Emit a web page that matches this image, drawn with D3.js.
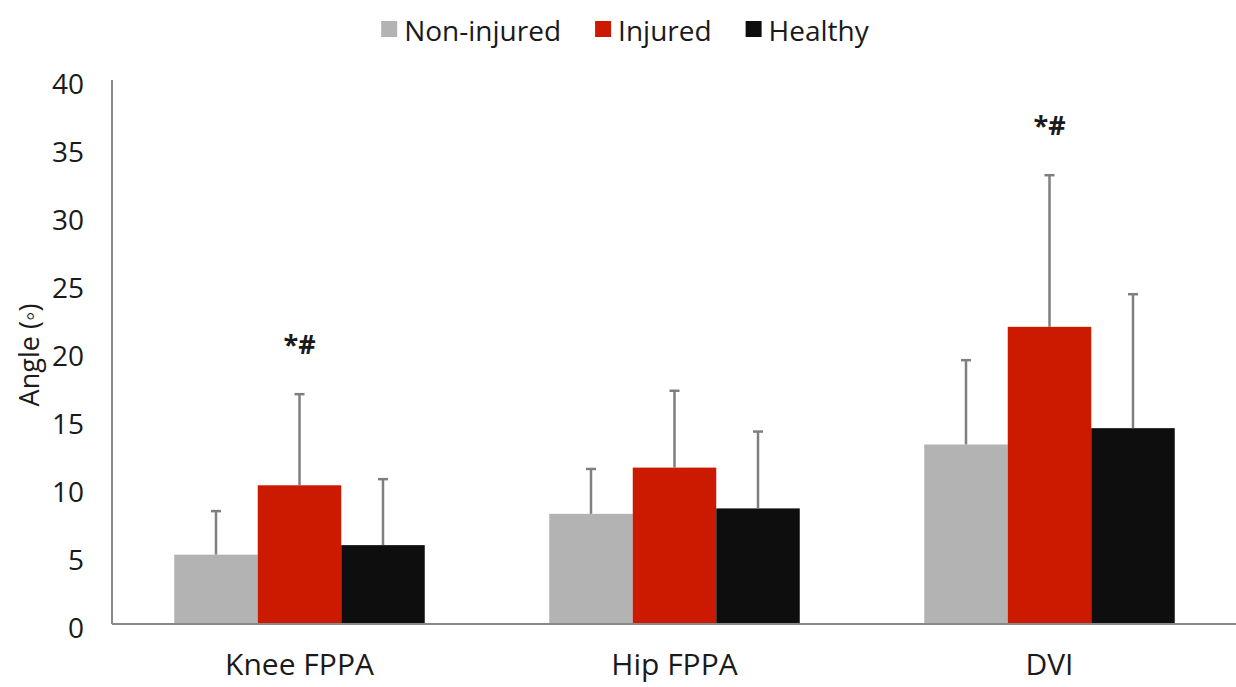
<!DOCTYPE html>
<html>
<head>
<meta charset="utf-8">
<script src="https://cdn.jsdelivr.net/npm/d3@7"></script>
<style>
  body { margin: 0; background: #fff; }
  text { font-family: "Open Sans", "Noto Sans", sans-serif; fill: #1a1a1a; }
</style>
</head>
<body>
<div id="chart"></div>
<script>
// data
var groups = ['Knee FPPA', 'Hip FPPA', 'DVI'];
var series = ['Non-injured', 'Injured', 'Healthy'];
var nonInjuredMean = [5.1, 8.1, 13.2];
var nonInjuredSD = [3.2, 3.3, 6.2];
var injuredMean = [10.2, 11.5, 21.85];
var injuredSD = [6.7, 5.65, 11.15];
var healthyMean = [5.8, 8.5, 14.4];
var healthySD = [4.85, 5.65, 9.85];
var yTicks = [0, 5, 10, 15, 20, 25, 30, 35, 40];
var colors = ['#b3b3b3', '#cc1a00', '#0e0e0e'];
var annotations = [
  { group: 'Knee FPPA', series: 'Injured', text: '*#' },
  { group: 'DVI', series: 'Injured', text: '*#' }
];

var width = 1236;
var height = 687;
var margin = { top: 80, right: 0, bottom: 63, left: 112 };

var means = [nonInjuredMean, injuredMean, healthyMean];
var sds = [nonInjuredSD, injuredSD, healthySD];

var rows = [];
groups.forEach(function (g, gi) {
  series.forEach(function (s, si) {
    rows.push({ group: g, series: s, mean: means[si][gi], sd: sds[si][gi], color: colors[si] });
  });
});

var svg = d3.select('#chart')
  .append('svg')
  .attr('width', width)
  .attr('height', height);

var x0 = d3.scaleBand()
  .domain(groups)
  .range([margin.left, width - margin.right + 1])
  .paddingInner(0.332)
  .paddingOuter(0.166);

var x1 = d3.scaleBand()
  .domain(series)
  .range([0, x0.bandwidth()]);

var y = d3.scaleLinear()
  .domain([0, 40])
  .range([height - margin.bottom, margin.top]);

// bars
svg.append('g')
  .selectAll('rect')
  .data(rows)
  .enter()
  .append('rect')
  .attr('x', function (d) { return x0(d.group) + x1(d.series); })
  .attr('y', function (d) { return y(d.mean); })
  .attr('width', x1.bandwidth())
  .attr('height', function (d) { return y(0) - y(d.mean); })
  .attr('fill', function (d) { return d.color; });

// error bars (upper only)
var err = svg.append('g')
  .attr('stroke', '#7f7f7f')
  .attr('stroke-width', 2.5)
  .selectAll('g')
  .data(rows)
  .enter()
  .append('g');

err.append('line')
  .attr('x1', function (d) { return x0(d.group) + x1(d.series) + x1.bandwidth() / 2; })
  .attr('x2', function (d) { return x0(d.group) + x1(d.series) + x1.bandwidth() / 2; })
  .attr('y1', function (d) { return y(d.mean); })
  .attr('y2', function (d) { return y(d.mean + d.sd); });

err.append('line')
  .attr('x1', function (d) { return x0(d.group) + x1(d.series) + x1.bandwidth() / 2 - 5; })
  .attr('x2', function (d) { return x0(d.group) + x1(d.series) + x1.bandwidth() / 2 + 5; })
  .attr('y1', function (d) { return y(d.mean + d.sd); })
  .attr('y2', function (d) { return y(d.mean + d.sd); });

// significance marks
svg.append('g')
  .selectAll('text')
  .data(annotations)
  .enter()
  .append('text')
  .attr('x', function (d) { return x0(d.group) + x1(d.series) + x1.bandwidth() / 2; })
  .attr('y', function (d) {
    var r = rows.find(function (r) { return r.group === d.group && r.series === d.series; });
    return y(r.mean + r.sd) - 51;
  })
  .attr('text-anchor', 'middle')
  .attr('dominant-baseline', 'central')
  .style('font-size', '27px')
  .style('font-weight', 'bold')
  .text(function (d) { return d.text; });

// axes
svg.append('line')
  .attr('x1', margin.left).attr('x2', margin.left)
  .attr('y1', y(40)).attr('y2', y(0))
  .attr('stroke', '#888').attr('stroke-width', 2);

svg.append('line')
  .attr('x1', margin.left).attr('x2', width)
  .attr('y1', y(0)).attr('y2', y(0))
  .attr('stroke', '#888').attr('stroke-width', 2);

svg.append('g')
  .selectAll('text')
  .data(yTicks)
  .enter()
  .append('text')
  .attr('x', margin.left - 28)
  .attr('y', function (d) { return y(d) + 3; })
  .attr('text-anchor', 'end')
  .attr('dominant-baseline', 'central')
  .style('font-size', '28px')
  .text(function (d) { return d; });

svg.append('g')
  .selectAll('text')
  .data(groups)
  .enter()
  .append('text')
  .attr('x', function (d) { return x0(d) + x0.bandwidth() / 2; })
  .attr('y', y(0) + 39)
  .attr('text-anchor', 'middle')
  .attr('dominant-baseline', 'central')
  .style('font-size', '30px')
  .text(function (d) { return d; });

svg.append('text')
  .attr('transform', 'translate(28,' + ((y(0) + y(40)) / 2 + 3) + ') rotate(-90)')
  .attr('text-anchor', 'middle')
  .attr('dominant-baseline', 'central')
  .style('font-size', '27px')
  .text('Angle (\u25E6)');

// legend
var legend = svg.append('g');
var items = legend.selectAll('g')
  .data(series)
  .enter()
  .append('g');

items.append('rect')
  .attr('width', 16)
  .attr('height', 16)
  .attr('y', 21)
  .attr('fill', function (d, i) { return colors[i]; });

items.append('text')
  .attr('x', 23)
  .attr('y', 30)
  .attr('dominant-baseline', 'central')
  .style('font-size', '28px')
  .text(function (d) { return d; });

var pos = 0;
var offsets = [];
items.each(function () {
  offsets.push(pos);
  pos += 23 + d3.select(this).select('text').node().getComputedTextLength() + 34;
});
var total = pos - 34;
var start = 625 - total / 2;
items.attr('transform', function (d, i) { return 'translate(' + (start + offsets[i]) + ',0)'; });
</script>
</body>
</html>
